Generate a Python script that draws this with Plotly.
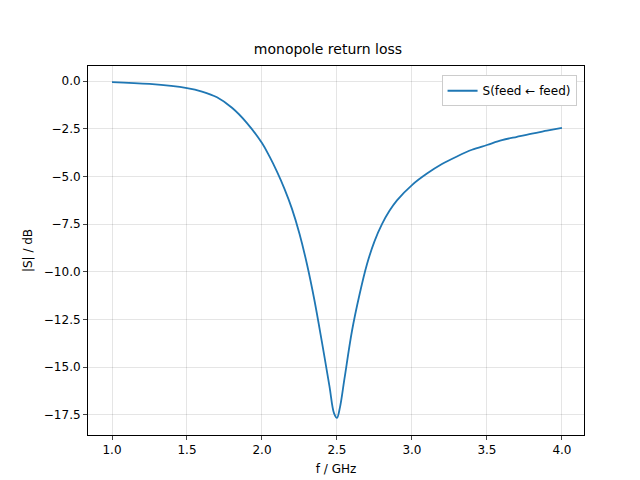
import plotly.graph_objects as go

freq = [1.0, 1.25, 1.5, 1.6, 1.7, 1.8, 1.9, 2.0, 2.05, 2.1, 2.15, 2.2, 2.25, 2.3, 2.35, 2.4, 2.45, 2.48, 2.5, 2.52, 2.55, 2.6, 2.65, 2.7, 2.75, 2.8, 2.85, 2.9, 3.0, 3.1, 3.2, 3.3, 3.4, 3.5, 3.6, 3.7, 3.8, 3.9, 4.0]
s11 = [-0.05, -0.15, -0.37, -0.55, -0.85, -1.4, -2.2, -3.25, -3.95, -4.75, -5.65, -6.7, -8.0, -9.6, -11.5, -13.7, -16.0, -17.4, -17.65, -17.1, -15.6, -13.1, -11.2, -9.6, -8.4, -7.5, -6.8, -6.25, -5.45, -4.85, -4.35, -3.95, -3.6, -3.35, -3.1, -2.92, -2.75, -2.6, -2.45]

fig = go.Figure(go.Scatter(x=freq, y=s11, mode="lines", line=dict(color="#1f77b4", width=1.8, shape="spline", smoothing=1.0),
                           name="S(feed ← feed)"))
ax = dict(showline=True, linecolor="black", mirror=True, ticks="outside", ticklen=4, automargin=False,
          gridcolor="rgba(0,0,0,0.1)", zeroline=False, tickfont=dict(size=12, color="black"))
fig.update_layout(
    width=640, height=480, plot_bgcolor="white", paper_bgcolor="white",
    margin=dict(l=80, r=64, t=58, b=53),
    font=dict(family="DejaVu Sans", size=12, color="black"),
    title=dict(text="monopole return loss", x=0.5, xanchor="center", y=0.925, font=dict(size=14)),
    xaxis=dict(ax, range=[0.84, 4.147], tickvals=[1.0,1.5,2.0,2.5,3.0,3.5,4.0], ticktext=["1.0","1.5","2.0","2.5","3.0","3.5","4.0"],
               title=dict(text="f / GHz", font=dict(size=12), standoff=8)),
    yaxis=dict(ax, range=[-18.55, 0.79], tickvals=[0,-2.5,-5,-7.5,-10,-12.5,-15,-17.5],
               ticktext=["0.0","−2.5","−5.0","−7.5","−10.0","−12.5","−15.0","−17.5"],
               title=dict(text="|S| / dB", font=dict(size=12), standoff=8)),
    showlegend=True,
    legend=dict(x=0.985, y=0.975, xanchor="right", yanchor="top", bordercolor="#ccc", borderwidth=1, bgcolor="white"),
)
fig.write_html("out.html")
